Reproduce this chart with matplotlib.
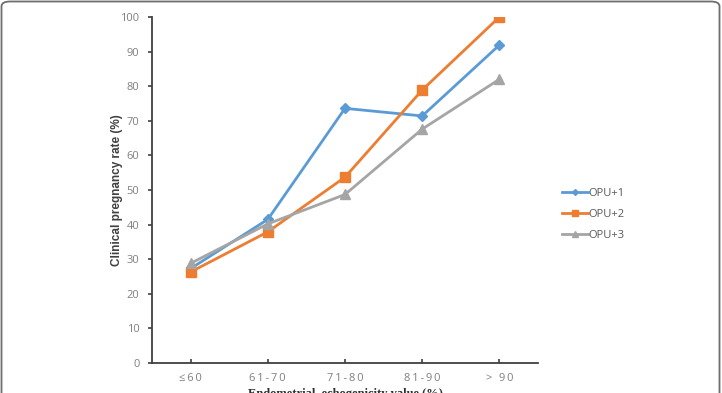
import matplotlib.pyplot as plt
from matplotlib.patches import FancyBboxPatch

# data
categories = ["≤60", "61-70", "71-80", "81-90", "> 90"]
opu1 = [27.3, 41.5, 73.6, 71.4, 91.9]
opu2 = [26.3, 37.9, 53.7, 78.9, 100.0]
opu3 = [28.8, 40.2, 48.7, 67.6, 82.0]
series_names = ["OPU+1", "OPU+2", "OPU+3"]

plt.rcParams['font.family'] = ['Open Sans', 'DejaVu Sans']

fig = plt.figure(figsize=(7.22, 3.93), dpi=100)
ax = fig.add_axes([152 / 722, 1 - 363 / 393, (538 - 152) / 722, (363 - 17) / 393])

x = list(range(len(categories)))
ax.plot(x, opu1, color='#5B9BD5', lw=2, marker='D', ms=5, label=series_names[0])
ax.plot(x, opu2, color='#ED7D31', lw=2, marker='s', ms=7.5, label=series_names[1])
ax.plot(x, opu3, color='#A5A5A5', lw=2, marker='^', ms=7, label=series_names[2])

ax.set_xlim(-0.5, 4.5)
ax.set_ylim(0, 100)
ax.set_yticks(range(0, 101, 10))
ax.set_xticks(x)
ax.set_xticklabels(["\u2009".join(c) for c in categories])
ax.tick_params(axis='y', direction='out', length=3, width=1.2, color='#404040',
               labelsize=8, labelcolor='#7f7f7f', pad=6)
ax.tick_params(axis='x', direction='in', length=3, width=1.2, color='#404040',
               labelsize=8, labelcolor='#7f7f7f', pad=7)
for s in ['top', 'right']:
    ax.spines[s].set_visible(False)
for s in ['left', 'bottom']:
    ax.spines[s].set_color('#404040')
    ax.spines[s].set_linewidth(1.3)

ax.set_ylabel("Clinical pregnancy rate (%)", fontsize=8.5, fontweight='bold',
              color='#404040', family=['Liberation Sans', 'DejaVu Sans'], labelpad=-2)

fig.text(345 / 722, 1 - 388.5 / 393, "Endometrial  echogenicity value (%)",
         ha='center', va='top', fontsize=9, fontweight='bold',
         family=['Liberation Serif', 'DejaVu Serif'], color='#303030')

fig.legend(loc='upper left', bbox_to_anchor=(552 / 722, 1 - 178 / 393),
           frameon=False, fontsize=8, handlelength=2.3, labelspacing=0.9,
           handletextpad=0.1, labelcolor='#595959', markerscale=0.6)

# rounded frame around the panel (bottom edge cropped)
frame = FancyBboxPatch((1.5 / 722, -0.1), 718 / 722, 1.1 - 1.5 / 393,
                       boxstyle="round,pad=0,rounding_size=0.012",
                       transform=fig.transFigure, fill=False,
                       edgecolor='#6e6e6e', linewidth=1.3, clip_on=False)
fig.add_artist(frame)

fig.savefig('out.png', dpi=100, facecolor='white')
